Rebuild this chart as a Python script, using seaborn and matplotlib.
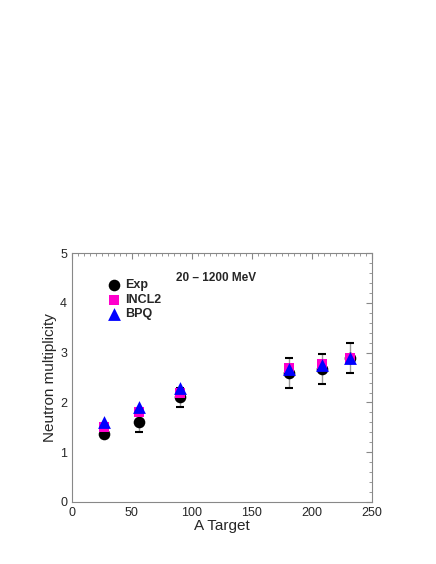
import numpy as np
import pandas as pd
import matplotlib
matplotlib.use("Agg")
import matplotlib.pyplot as plt
import seaborn as sns
from matplotlib.ticker import MultipleLocator

a_target = [27, 56, 90, 181, 208, 232]
exp_mult = [1.37, 1.6, 2.1, 2.6, 2.68, 2.9]
exp_err = [0.05, 0.2, 0.2, 0.3, 0.3, 0.3]
incl2_mult = [1.5, 1.8, 2.2, 2.7, 2.78, 2.9]
bpq_mult = [1.6, 1.9, 2.3, 2.67, 2.76, 2.9]

sns.set_style("white")
plt.rcParams["font.family"] = ["Liberation Sans", "DejaVu Sans"]

fig = plt.figure(figsize=(4.36, 5.64), dpi=100)
ax = fig.add_axes([0.165, 0.110, 0.688, 0.441])

eb = ax.errorbar(a_target, exp_mult, yerr=exp_err, fmt="none", ecolor="#999999",
                 elinewidth=1, capsize=3, capthick=1.5, zorder=1)
for cap in eb[1]:
    cap.set_markeredgecolor("black")
    cap.set_color("black")

sns.scatterplot(x=a_target, y=exp_mult, color="black", marker="o", s=70,
                linewidth=0, ax=ax, zorder=3, label="Exp")
sns.scatterplot(x=a_target, y=incl2_mult, color="#ff00cc", marker="s", s=55,
                linewidth=0, ax=ax, zorder=4, label="INCL2")
sns.scatterplot(x=a_target, y=bpq_mult, color="#0000ff", marker="^", s=85,
                linewidth=0, ax=ax, zorder=5, label="BPQ")

ax.set_xlim(0, 250)
ax.set_ylim(0, 5)
ax.xaxis.set_major_locator(MultipleLocator(50))
ax.xaxis.set_minor_locator(MultipleLocator(5))
ax.yaxis.set_major_locator(MultipleLocator(1))
ax.yaxis.set_minor_locator(MultipleLocator(0.2))
ax.tick_params(which="both", direction="in", top=True, right=True,
               labelsize=9, color="#888888")
ax.tick_params(which="major", length=4)
ax.tick_params(which="minor", length=2)
for sp in ax.spines.values():
    sp.set_color("#888888")
    sp.set_linewidth(0.8)

ax.set_xlabel("A Target", fontsize=11, labelpad=0)
ax.set_ylabel("Neutron multiplicity", fontsize=11, labelpad=2)

leg = ax.legend(loc="upper left", bbox_to_anchor=(0.06, 0.94), frameon=False,
                handletextpad=-0.1, labelspacing=0.2, markerscale=1.0,
                prop={"weight": "bold", "size": 9})
ax.text(0.48, 0.90, "20 \u2013 1200 MeV", transform=ax.transAxes,
        ha="center", va="center", fontsize=8.5, fontweight="bold")

fig.savefig("out.png", dpi=100)
